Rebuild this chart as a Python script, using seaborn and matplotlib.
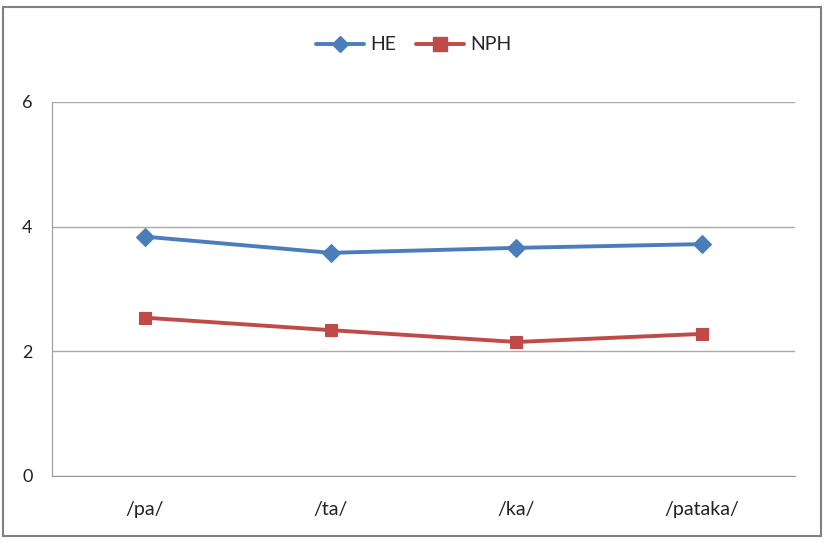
import matplotlib
matplotlib.use("Agg")
import matplotlib.pyplot as plt
from matplotlib.patches import Rectangle
from matplotlib.lines import Line2D
import seaborn as sns
import pandas as pd

categories = ["/pa/", "/ta/", "/ka/", "/pataka/"]
he_values = [3.84, 3.58, 3.66, 3.72]
nph_values = [2.54, 2.34, 2.15, 2.28]
series_names = ["HE", "NPH"]
y_ticks = [0, 2, 4, 6]

df = pd.DataFrame({
    "cat": categories * 2,
    "pos": list(range(len(categories))) * 2,
    "value": he_values + nph_values,
    "series": [series_names[0]] * 4 + [series_names[1]] * 4,
})

sns.set_style("white")
plt.rcParams["font.family"] = ["Lato", "DejaVu Sans"]

colors = {"HE": "#4A7EBB", "NPH": "#BE4B48"}
markers = {"HE": "D", "NPH": "s"}

fig = plt.figure(figsize=(8.27, 5.46), dpi=100)
ax = fig.add_axes([52/827, 1-476/546, (795-52)/827, (476-102)/546])

sns.lineplot(data=df, x="pos", y="value", hue="series", style="series",
             palette=colors, markers=markers, dashes=False, linewidth=2.8,
             markersize=9, markeredgewidth=0.8, ax=ax, legend=False)
for line in ax.lines:
    line.set_markeredgecolor(line.get_color())

ax.set_xlim(-0.5, 3.5)
ax.set_ylim(0, 6)
ax.set_yticks(y_ticks)
ax.set_yticklabels([str(v) for v in y_ticks], fontsize=13, color="#222222")
ax.set_xticks(range(len(categories)))
ax.set_xticklabels(categories, fontsize=14, color="#222222")
ax.set_xticks([-0.5, 0.5, 1.5, 2.5, 3.5], minor=True)
ax.tick_params(axis="x", which="major", length=0, pad=18)
ax.tick_params(axis="x", which="minor", length=5, color="#999999", direction="out")
ax.tick_params(axis="y", length=7, color="#999999", direction="out", pad=7)
ax.set_xlabel("")
ax.set_ylabel("")
ax.grid(axis="y", color="#AAAAAA", linewidth=1)
ax.set_axisbelow(True)
for s in ["top", "right"]:
    ax.spines[s].set_visible(False)
ax.spines["left"].set_color("#999999")
ax.spines["bottom"].set_color("#999999")

handles = [Line2D([0], [0], color=colors[n], marker=markers[n], linewidth=2.8,
                  markersize=8 if n == "HE" else 10, markeredgecolor=colors[n]) for n in series_names]
fig.legend(handles, series_names, loc="center", bbox_to_anchor=(0.5, 1-45/546),
           ncol=2, frameon=False, fontsize=14, handlelength=2.5, columnspacing=1.0,
           handletextpad=0.3)

fig.patches.append(Rectangle((3/827, 1-536/546), (821-3)/827, (536-7)/546,
                             transform=fig.transFigure, fill=False,
                             edgecolor="#808080", linewidth=1.5))

fig.savefig("out.png", dpi=100)
